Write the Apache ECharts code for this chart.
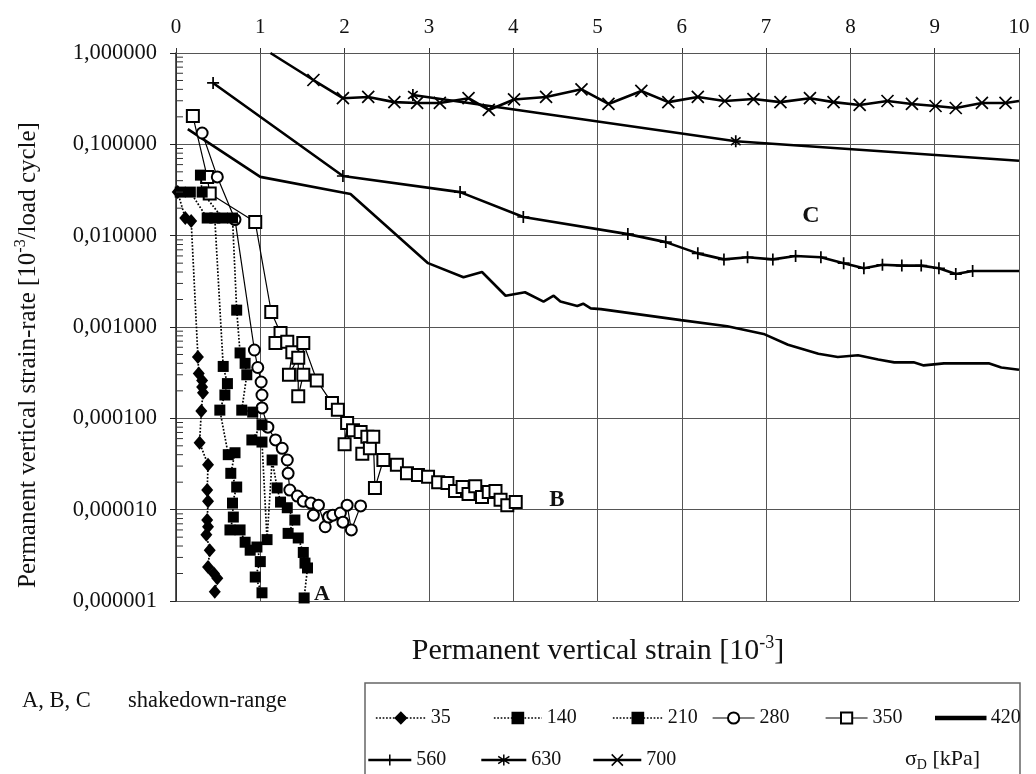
<!DOCTYPE html>
<html><head><meta charset="utf-8">
<script src="https://cdn.jsdelivr.net/npm/echarts@6/dist/echarts.min.js"></script>
<style>html,body{margin:0;padding:0;background:#fff}#c{width:1036px;height:774px}</style>
</head><body><div id="c"></div>
<script>
// ---------- data ----------
const xTickLabels = ['0','1','2','3','4','5','6','7','8','9','10'];
const yTickLabels = ['0,000001','0,000010','0,000100','0,001000','0,010000','0,100000','1,000000'];
const minorMultipliers = [2,3,4,5,6,7,8,9];
const decadeExponents = [-6,-5,-4,-3,-2,-1];

const s35 = [[0.02,0.030],[0.11,0.0156],[0.18,0.0145],[0.26,0.00047],[0.27,0.00031],[0.31,0.00026],[0.31,0.00022],[0.32,0.00019],[0.30,0.00012],[0.28,0.000054],[0.38,0.000031],[0.37,0.0000164],[0.38,0.0000124],[0.37,0.0000077],[0.38,0.0000065],[0.36,0.0000053],[0.40,0.0000036],[0.38,0.00000235],[0.45,0.0000020],[0.49,0.00000178],[0.46,0.00000126]];
const s140 = [[0.05,0.030],[0.17,0.030],[0.37,0.0156],[0.46,0.0156],[0.56,0.00037],[0.61,0.00024],[0.58,0.00018],[0.52,0.000123],[0.62,0.000040],[0.70,0.000042],[0.65,0.000025],[0.72,0.0000177],[0.67,0.0000118],[0.68,0.0000083],[0.64,0.0000060],[0.76,0.0000060],[0.82,0.0000044],[0.88,0.0000036],[0.96,0.0000039],[1.00,0.0000027],[0.94,0.00000183],[1.02,0.00000123]];
const s210 = [[0.29,0.046],[0.31,0.030],[0.55,0.0156],[0.67,0.0156],[0.72,0.00153],[0.76,0.00052],[0.82,0.00040],[0.84,0.00030],[0.78,0.000123],[0.91,0.000117],[1.02,0.000085],[0.90,0.000058],[1.02,0.000055],[1.08,0.0000047],[1.14,0.000035],[1.20,0.0000173],[1.24,0.0000121],[1.32,0.0000105],[1.41,0.0000077],[1.33,0.0000055],[1.45,0.0000049],[1.51,0.0000034],[1.53,0.0000026],[1.56,0.0000023],[1.52,0.00000108]];
const s280 = [[0.31,0.133],[0.49,0.044],[0.70,0.015],[0.93,0.00056],[0.97,0.00036],[1.01,0.00025],[1.02,0.00018],[1.02,0.00013],[1.09,0.000080],[1.18,0.000058],[1.26,0.000047],[1.32,0.000035],[1.33,0.000025],[1.35,0.0000164],[1.44,0.0000141],[1.51,0.0000124],[1.60,0.0000118],[1.63,0.0000087],[1.69,0.0000112],[1.77,0.0000065],[1.81,0.0000083],[1.86,0.0000087],[1.95,0.0000092],[1.98,0.0000073],[2.03,0.0000112],[2.08,0.0000060],[2.19,0.000011]];
const s350 = [[0.20,0.204],[0.37,0.044],[0.40,0.029],[0.94,0.0141],[1.13,0.00146],[1.24,0.00086],[1.18,0.00067],[1.32,0.00069],[1.38,0.00053],[1.34,0.00030],[1.45,0.00046],[1.45,0.000175],[1.51,0.00030],[1.51,0.00067],[1.67,0.00026],[1.85,0.000147],[1.92,0.000124],[2.03,0.000089],[2.00,0.000052],[2.10,0.000074],[2.19,0.000071],[2.27,0.000063],[2.21,0.000041],[2.30,0.000047],[2.34,0.000063],[2.36,0.0000173],[2.46,0.000035],[2.62,0.000031],[2.74,0.000025],[2.87,0.000024],[2.99,0.000023],[3.11,0.000020],[3.22,0.0000196],[3.31,0.000016],[3.40,0.0000177],[3.47,0.0000148],[3.55,0.000018],[3.63,0.0000138],[3.71,0.0000156],[3.79,0.000016],[3.85,0.0000128],[3.93,0.0000112],[4.03,0.0000121]];
const s420 = [[0.14,0.147],[1.0,0.044],[2.07,0.0286],[2.99,0.0050],[3.41,0.0035],[3.63,0.0040],[3.91,0.0022],[4.14,0.0024],[4.36,0.0019],[4.48,0.0022],[4.56,0.0019],[4.76,0.0017],[4.83,0.0018],[4.92,0.0016],[5.04,0.00157],[5.99,0.00119],[6.54,0.00102],[6.97,0.00084],[7.26,0.00064],[7.62,0.00051],[7.85,0.00047],[8.09,0.00049],[8.33,0.00044],[8.52,0.00041],[8.75,0.00041],[8.87,0.00038],[9.11,0.00040],[9.39,0.00040],[9.64,0.00040],[9.79,0.00036],[10.0,0.00034]];
const s560 = [[0.44,0.47],[1.98,0.045],[3.37,0.030],[4.12,0.016],[5.36,0.0104],[5.81,0.0085],[6.19,0.0064],[6.50,0.0055],[6.78,0.0058],[7.08,0.0055],[7.35,0.0060],[7.65,0.0058],[7.92,0.0050],[8.16,0.0044],[8.38,0.0048],[8.61,0.0047],[8.84,0.0047],[9.05,0.0044],[9.25,0.0038],[9.45,0.0041],[10.0,0.0041]];
const s630 = [[2.81,0.347],[6.64,0.108],[10.0,0.066]];
const s700 = [[1.12,1.0],[1.63,0.506],[1.98,0.32],[2.28,0.33],[2.59,0.29],[2.86,0.284],[3.13,0.284],[3.47,0.32],[3.71,0.238],[4.01,0.31],[4.39,0.33],[4.81,0.40],[5.13,0.277],[5.52,0.384],[5.84,0.29],[6.19,0.33],[6.51,0.298],[6.85,0.313],[7.17,0.29],[7.52,0.32],[7.80,0.29],[8.11,0.27],[8.44,0.298],[8.73,0.277],[9.01,0.263],[9.25,0.25],[9.56,0.284],[9.84,0.284],[10.0,0.298]];

// ---------- styling ----------
const FONT = '"Liberation Serif", "Times New Roman", serif';
const INK = '#111';
const GRID = '#555';
const PLUS = 'path://M0,-1L0,1M-1,0L1,0';
const CROSS = 'path://M-1,-1L1,1M-1,1L1,-1';
const STAR = 'path://M-1,-0.8L1,0.8M-1,0.8L1,-0.8M0,-1.25L0,1.25';

function withHidden(data, hide) {
  return data.map((d, i) => hide.indexOf(i) >= 0 ? { value: d, symbol: 'none' } : d);
}
function lineSeries(name, data, sym, size, lw, dotted, hide) {
  return {
    name, type: 'line', data: withHidden(data, hide || []),
    symbol: sym, symbolSize: size, symbolKeepAspect: true,
    showAllSymbol: true, animation: false, silent: true, clip: true,
    itemStyle: { color: '#000', borderColor: '#000', borderWidth: sym.indexOf('path://') === 0 ? 1.7 : (sym.indexOf('empty') === 0 ? 1.4 : 0) },
    lineStyle: { color: '#000', width: lw, type: dotted ? 'dotted' : 'solid' },
    emphasis: { disabled: true }
  };
}

const minorTickData = [];
decadeExponents.forEach(e => minorMultipliers.forEach(m => minorTickData.push([0, m * Math.pow(10, e)])));

const series = [
  lineSeries('420', s420, 'none', 0, 2.6, false),
  lineSeries('560', s560, PLUS, 12, 2.6, false, [s560.length - 1]),
  lineSeries('630', s630, STAR, 12, 2.6, false, [s630.length - 1]),
  lineSeries('700', s700, CROSS, 12, 2.6, false, [0, s700.length - 1]),
  lineSeries('350', s350, 'emptyRect', 12, 1.2, false),
  lineSeries('280', s280, 'emptyCircle', 11, 1.2, false),
  lineSeries('35', s35, 'diamond', [12, 14], 1.7, true),
  lineSeries('140', s140, 'rect', 11, 1.7, true),
  lineSeries('210', s210, 'rect', 11, 1.7, true),
  {
    name: 'minorTicks', type: 'custom', data: minorTickData, silent: true, clip: false, animation: false, z: 5,
    renderItem: (params, api) => {
      const p = api.coord([api.value(0), api.value(1)]);
      return { type: 'line', shape: { x1: p[0], y1: p[1], x2: p[0] + 7, y2: p[1] }, style: { stroke: '#333', lineWidth: 1 } };
    }
  }
];

const legendSpec = [
  { name: '35', left: 375, top: 708, w: 50, lw: 1.7 },
  { name: '140', left: 493, top: 708, w: 48, lw: 1.7 },
  { name: '210', left: 612, top: 708, w: 50, lw: 1.7 },
  { name: '280', left: 712, top: 708, w: 42, lw: 1.2 },
  { name: '350', left: 825, top: 708, w: 42, lw: 1.2 },
  { name: '420', left: 935, top: 708, w: 50, lw: 2.6, icon: 'rect' },
  { name: '560', left: 367, top: 750, w: 43, lw: 2.6 },
  { name: '630', left: 480, top: 750, w: 45, lw: 2.6 },
  { name: '700', left: 592, top: 750, w: 48, lw: 2.6 }
];
const legends = legendSpec.map(l => ({
  data: [l.icon ? { name: l.name, icon: l.icon } : l.name],
  left: l.left, top: l.top, padding: 0, selectedMode: false,
  itemWidth: l.w, itemHeight: l.icon ? 3 : 14,
  lineStyle: { width: l.lw },
  itemStyle: { borderWidth: 1.5 },
  textStyle: { fontFamily: FONT, fontSize: 20, color: INK, padding: [4, 0, 0, 0] }
}));

const option = {
  backgroundColor: '#fff',
  animation: false,
  grid: { left: 176, top: 53, width: 843, height: 548, containLabel: false },
  xAxis: {
    type: 'value', position: 'top', min: 0, max: 10, interval: 1,
    axisLine: { show: true, lineStyle: { color: GRID, width: 1 } },
    axisTick: { show: true, length: 5, inside: false, lineStyle: { color: '#333' } },
    axisLabel: { margin: 15, fontFamily: FONT, fontSize: 21, color: INK, formatter: v => xTickLabels[Math.round(v)] },
    splitLine: { show: true, lineStyle: { color: GRID, width: 1 } }
  },
  yAxis: {
    type: 'log', logBase: 10, min: 1e-6, max: 1,
    axisLine: { show: true, lineStyle: { color: '#222', width: 1.5 } },
    axisTick: { show: true, length: 6, inside: false, lineStyle: { color: '#222' } },
    axisLabel: { margin: 19, fontFamily: FONT, fontSize: 22.5, color: INK,
      formatter: v => yTickLabels[Math.round(Math.log10(v)) + 6] },
    splitLine: { show: true, lineStyle: { color: GRID, width: 1 } }
  },
  legend: legends,
  series,
  graphic: [
    { type: 'text', x: 28, y: 355, rotation: Math.PI / 2, z: 10,
      style: { text: '{a|Permanent vertical strain-rate [10}{s|-3}{a|/load cycle]}', align: 'center', verticalAlign: 'middle',
        rich: { a: { fontFamily: FONT, fontSize: 25, fill: INK, lineHeight: 30 }, s: { fontFamily: FONT, fontSize: 16, fill: INK, lineHeight: 18, verticalAlign: 'top' } } } },
    { type: 'text', x: 598, y: 651, z: 10,
      style: { text: '{a|Permanent vertical strain [10}{s|-3}{a|]}', align: 'center', verticalAlign: 'middle',
        rich: { a: { fontFamily: FONT, fontSize: 30, fill: INK, lineHeight: 34 }, s: { fontFamily: FONT, fontSize: 18, fill: INK, lineHeight: 20, verticalAlign: 'top' } } } },
    { type: 'text', x: 22, y: 701, z: 10, style: { text: 'A, B, C', fontFamily: FONT, fontSize: 22.5, fill: INK, verticalAlign: 'middle' } },
    { type: 'text', x: 128, y: 701, z: 10, style: { text: 'shakedown-range', fontFamily: FONT, fontSize: 22.5, fill: INK, verticalAlign: 'middle' } },
    { type: 'rect', shape: { x: 365, y: 683, width: 655, height: 95 }, style: { fill: 'none', stroke: '#666', lineWidth: 1.5 }, z: 1 },
    { type: 'text', x: 905, y: 759, z: 10,
      style: { text: '{a|σ}{d|D}{a| [kPa]}', verticalAlign: 'middle',
        rich: { a: { fontFamily: FONT, fontSize: 22, fill: INK, lineHeight: 26 }, d: { fontFamily: FONT, fontSize: 14, fill: INK, lineHeight: 16, verticalAlign: 'bottom' } } } },
    { type: 'text', x: 322, y: 594, z: 10, style: { text: 'A', fontFamily: FONT, fontSize: 22, fontWeight: 'bold', fill: INK, align: 'center', verticalAlign: 'middle' } },
    { type: 'text', x: 557, y: 500, z: 10, style: { text: 'B', fontFamily: FONT, fontSize: 23, fontWeight: 'bold', fill: INK, align: 'center', verticalAlign: 'middle' } },
    { type: 'text', x: 811, y: 216, z: 10, style: { text: 'C', fontFamily: FONT, fontSize: 24, fontWeight: 'bold', fill: INK, align: 'center', verticalAlign: 'middle' } }
  ]
};

const chart = echarts.init(document.getElementById('c'));
chart.setOption(option);
</script>
</body></html>
